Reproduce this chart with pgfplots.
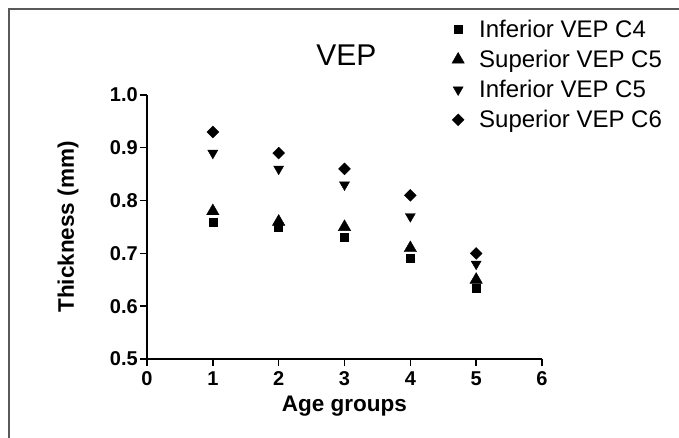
\documentclass[border=0pt]{standalone}
\usepackage{fontspec}
\setmainfont{Liberation Sans}
\usepackage{pgfplots}
\pgfplotsset{compat=1.18}

\begin{document}
\begin{tikzpicture}
% page = 679 x 438 (1pt per pixel), axis origin at pixel (147,359)
\useasboundingbox (-147pt,-79pt) rectangle (532pt,359pt);
\draw[black!65, line width=1.5pt] (-138pt,-79pt) -- (-138pt,350pt) -- (532pt,350pt);
\begin{axis}[
    scale only axis,
    width=395pt,
    height=264pt,
    xmin=0, xmax=6,
    ymin=0.5, ymax=1.0,
    axis lines*=left,
    axis line style={line width=1.6pt},
    tick align=outside,
    major tick length=7pt,
    tick style={line width=1.4pt, black},
    xtick={0,1,...,6},
    ytick={0.5,0.6,...,1.0},
    /pgf/number format/assume math mode=true,
    yticklabel style={/pgf/number format/fixed, /pgf/number format/fixed zerofill,
        /pgf/number format/precision=1, inner sep=2pt},
    ticklabel style={font=\fontsize{20}{20}\selectfont\bfseries},
    xticklabel style={inner sep=5.5pt},
    xlabel={Age groups},
    ylabel={Thickness (mm)},
    label style={font=\fontsize{22.5}{22.5}\selectfont\bfseries},
    xlabel style={at={(0.5,-0.178)}, anchor=center},
    ylabel style={at={(-0.2,0.5)}, anchor=center},
    title={VEP},
    every axis title shift=0pt,
    title style={font=\fontsize{30}{30}\selectfont, at={(0.505,1.152)}, anchor=center},
    clip=false,
    legend style={draw=none, fill=none, at={(0.767,1.292)}, anchor=north west,
        inner xsep=0pt, inner ysep=0pt, row sep=7.2pt,
        font=\fontsize{24}{24}\selectfont, cells={anchor=west}},
    legend image code/.code={
        \path[draw=none] (-8pt,0pt) rectangle (19pt,0pt);
        \draw[#1] plot coordinates {(0pt,0pt)};
    },
]
\addplot[only marks, mark=square*, mark size=4pt, black] coordinates {
    (1,0.76) (2,0.75) (3,0.73) (4,0.69) (5,0.635)
};
\addlegendentry{Inferior VEP C4}
\addplot[only marks, mark=triangle*, mark size=7.2pt, black] coordinates {
    (1,0.78) (2,0.76) (3,0.75) (4,0.71) (5,0.65)
};
\addlegendentry{Superior VEP C5}
\addplot[only marks, mark=triangle*, mark size=5.8pt, mark options={rotate=180}, black] coordinates {
    (1,0.89) (2,0.86) (3,0.83) (4,0.77) (5,0.68)
};
\addlegendentry{Inferior VEP C5}
\addplot[only marks, mark=square*, mark size=4.2pt, mark options={rotate=45}, black] coordinates {
    (1,0.93) (2,0.89) (3,0.86) (4,0.81) (5,0.70)
};
\addlegendentry{Superior VEP C6}
\end{axis}
\end{tikzpicture}
\end{document}
